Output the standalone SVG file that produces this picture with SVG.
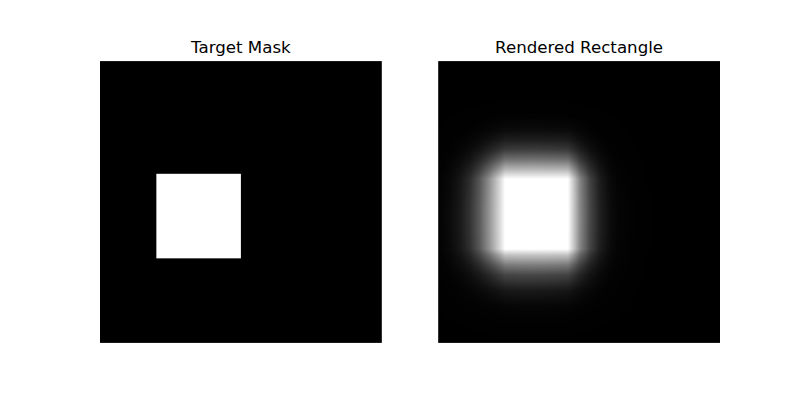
<svg xmlns="http://www.w3.org/2000/svg" width="800" height="400" viewBox="0 0 800 400">
<style>
.title{font-family:"DejaVu Sans",sans-serif;font-size:16.67px;fill:#000;text-anchor:middle}
</style>
<defs>
<linearGradient id="hg" gradientUnits="userSpaceOnUse" x1="438.2" y1="0" x2="720" y2="0">
<stop offset="0" stop-color="#fff" stop-opacity="0"/>
<stop offset="0.0419" stop-color="#fff" stop-opacity="0.02"/>
<stop offset="0.0774" stop-color="#fff" stop-opacity="0.06"/>
<stop offset="0.1128" stop-color="#fff" stop-opacity="0.14"/>
<stop offset="0.1483" stop-color="#fff" stop-opacity="0.3"/>
<stop offset="0.1838" stop-color="#fff" stop-opacity="0.54"/>
<stop offset="0.2193" stop-color="#fff" stop-opacity="0.83"/>
<stop offset="0.2370" stop-color="#fff" stop-opacity="1"/>
<stop offset="0.4606" stop-color="#fff" stop-opacity="1"/>
<stop offset="0.4854" stop-color="#fff" stop-opacity="0.7"/>
<stop offset="0.5032" stop-color="#fff" stop-opacity="0.48"/>
<stop offset="0.5387" stop-color="#fff" stop-opacity="0.22"/>
<stop offset="0.5742" stop-color="#fff" stop-opacity="0.08"/>
<stop offset="0.6097" stop-color="#fff" stop-opacity="0.02"/>
<stop offset="0.6452" stop-color="#fff" stop-opacity="0"/>
<stop offset="1" stop-color="#fff" stop-opacity="0"/>
</linearGradient>
<linearGradient id="vg" gradientUnits="userSpaceOnUse" x1="0" y1="61.1" x2="0" y2="342.9">
<stop offset="0" stop-color="#fff" stop-opacity="0"/>
<stop offset="0.1913" stop-color="#fff" stop-opacity="0"/>
<stop offset="0.2445" stop-color="#fff" stop-opacity="0.03"/>
<stop offset="0.2800" stop-color="#fff" stop-opacity="0.09"/>
<stop offset="0.3154" stop-color="#fff" stop-opacity="0.2"/>
<stop offset="0.3509" stop-color="#fff" stop-opacity="0.41"/>
<stop offset="0.3864" stop-color="#fff" stop-opacity="0.7"/>
<stop offset="0.4184" stop-color="#fff" stop-opacity="1"/>
<stop offset="0.6668" stop-color="#fff" stop-opacity="1"/>
<stop offset="0.6881" stop-color="#fff" stop-opacity="0.73"/>
<stop offset="0.7236" stop-color="#fff" stop-opacity="0.42"/>
<stop offset="0.7591" stop-color="#fff" stop-opacity="0.21"/>
<stop offset="0.8123" stop-color="#fff" stop-opacity="0.06"/>
<stop offset="0.8655" stop-color="#fff" stop-opacity="0.01"/>
<stop offset="0.9187" stop-color="#fff" stop-opacity="0"/>
<stop offset="1" stop-color="#fff" stop-opacity="0"/>
</linearGradient>
<mask id="vm" maskUnits="userSpaceOnUse" x="438.2" y="61.1" width="281.8" height="281.8">
<rect x="438.2" y="61.1" width="281.8" height="281.8" fill="url(#vg)"/>
</mask>
<filter id="halo" filterUnits="userSpaceOnUse" x="438.2" y="61.1" width="281.8" height="281.8" color-interpolation-filters="sRGB">
<feGaussianBlur in="SourceGraphic" stdDeviation="36"/>
<feOffset dx="-5" dy="5"/>
<feColorMatrix type="matrix" values="1 0 0 0 0  0 1 0 0 0  0 0 1 0 0  0 0 0 0.52 0"/>
</filter>
</defs>
<rect x="0" y="0" width="800" height="400" fill="#fff"/>
<g id="target-mask">
<rect x="100" y="61.1" width="281.8" height="281.8" fill="#000"/>
<rect x="156.36" y="173.8" width="84.54" height="84.54" fill="#fff"/>
<text class="title" x="240.9" y="52.8">Target Mask</text>
</g>
<g id="rendered-rectangle">
<rect x="438.2" y="61.1" width="281.8" height="281.8" fill="#000"/>
<rect x="505" y="179" width="63" height="70" fill="#fff" filter="url(#halo)"/>
<rect x="438.2" y="61.1" width="281.8" height="281.8" fill="url(#hg)" mask="url(#vm)"/>
<text class="title" x="579.1" y="52.8">Rendered Rectangle</text>
</g>
</svg>
